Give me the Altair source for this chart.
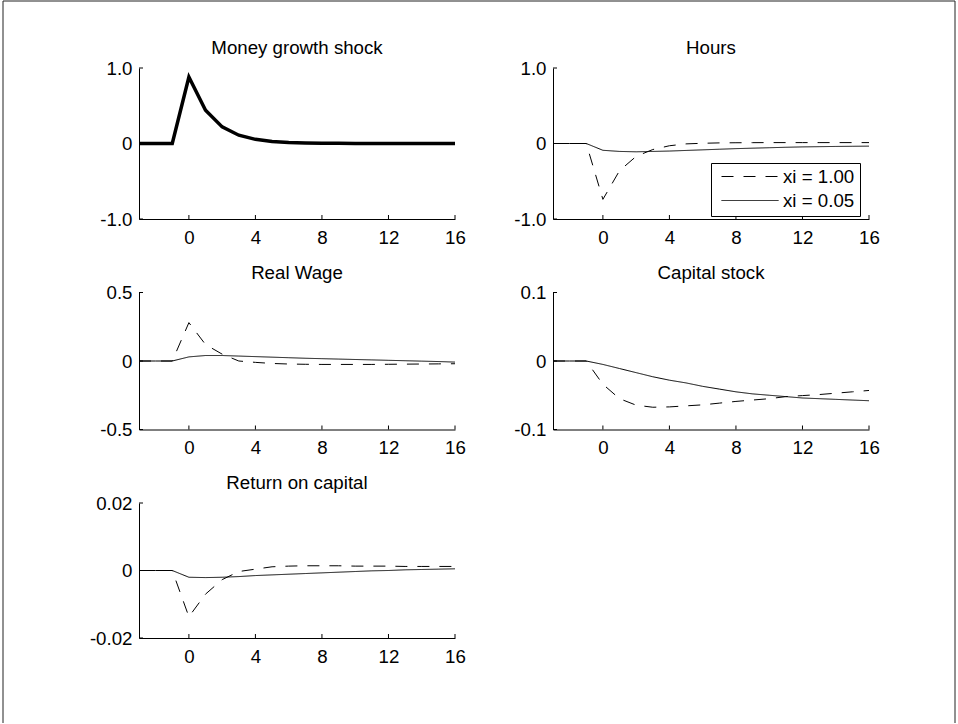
import altair as alt
import pandas as pd

FONT = "Liberation Sans"
FS = 18.7

# ---------------- data ----------------
steps = list(range(-3, 17))
series_names = ["xi = 1.00", "xi = 0.05"]
x_ticks = [0, 4, 8, 12, 16]
x_domain = [-3, 16]

money_shock = [0, 0, 0, 0.88, 0.44, 0.22, 0.11, 0.055, 0.028, 0.014, 0.007, 0.0035,
               0.002, 0.001, 0, 0, 0, 0, 0, 0]

hours_xi100 = [0, 0, 0, -0.74, -0.36, -0.17, -0.08, -0.03, -0.005, 0.003, 0.008, 0.01,
               0.011, 0.012, 0.012, 0.012, 0.012, 0.012, 0.012, 0.012]
hours_xi005 = [0, 0, 0, -0.09, -0.105, -0.11, -0.105, -0.1, -0.092, -0.084, -0.076,
               -0.068, -0.062, -0.056, -0.05, -0.045, -0.042, -0.039, -0.037, -0.035]

wage_xi100 = [0, 0, 0, 0.28, 0.12, 0.05, 0.0, -0.01, -0.018, -0.022, -0.024, -0.025,
              -0.025, -0.025, -0.025, -0.024, -0.023, -0.022, -0.021, -0.02]
wage_xi005 = [0, 0, 0, 0.03, 0.04, 0.04, 0.036, 0.032, 0.028, 0.024, 0.02, 0.017,
              0.014, 0.011, 0.008, 0.005, 0.002, -0.001, -0.004, -0.008]

capital_xi100 = [0, 0, 0, -0.034, -0.055, -0.0645, -0.0675, -0.067, -0.0655, -0.064,
                 -0.0615, -0.059, -0.057, -0.055, -0.052, -0.0505, -0.049, -0.047,
                 -0.045, -0.043]
capital_xi005 = [0, 0, 0, -0.005, -0.011, -0.017, -0.023, -0.028, -0.032, -0.037,
                 -0.041, -0.045, -0.048, -0.05, -0.052, -0.054, -0.055, -0.056,
                 -0.057, -0.058]

return_xi100 = [0, 0, 0, -0.0137, -0.007, -0.0027, -0.0003, 0.0004, 0.0011, 0.0013,
                0.0014, 0.0014, 0.0014, 0.0013, 0.0013, 0.0013, 0.0012, 0.0012,
                0.0012, 0.0012]
return_xi005 = [0, 0, 0, -0.002, -0.0021, -0.002, -0.0018, -0.0015, -0.0013, -0.0011,
                -0.0009, -0.0007, -0.0005, -0.0003, -0.0001, 0, 0.0002, 0.0003,
                0.0004, 0.0005]

W = 316
H1, H2, H3 = 151, 137, 135


def long_df(a, b):
    n = len(steps)
    return pd.DataFrame({
        "step": steps * 2,
        "value": a + b,
        "series": [series_names[0]] * n + [series_names[1]] * n,
    })


one_row = pd.DataFrame({"k": [0]})


def panel(title, df, ydom, yticks, fmt, h, legend=None, thick=False):
    xenc = alt.X("step:Q",
                 scale=alt.Scale(domain=x_domain, nice=False, zero=False),
                 axis=alt.Axis(values=x_ticks, title=None, ticks=False, grid=False,
                               labelFlush=False, labelOverlap=False, labelPadding=9))
    label_expr = (f"datum.value == 0 ? '0' : (datum.value < 0 ? '-' + "
                  f"format(-datum.value, '{fmt}') : format(datum.value, '{fmt}'))")
    yenc = alt.Y("value:Q",
                 scale=alt.Scale(domain=ydom, nice=False, zero=False),
                 axis=alt.Axis(values=yticks, title=None, ticks=False, grid=False,
                               labelFlush=False, labelOverlap=False, labelPadding=7,
                               labelExpr=label_expr))
    if thick:
        lines = alt.Chart(df).mark_line(color="black", strokeWidth=3.5).encode(x=xenc, y=yenc)
    else:
        lines = alt.Chart(df).mark_line(color="black", strokeWidth=1).encode(
            x=xenc, y=yenc,
            strokeDash=alt.StrokeDash(
                "series:N",
                scale=alt.Scale(domain=series_names, range=[[12, 10], [1, 0]]),
                legend=legend,
            ),
        )
    xt = alt.Chart(pd.DataFrame({"tick": x_ticks})).mark_rule(color="black", strokeWidth=1).encode(
        x=alt.X("tick:Q", title=None), y=alt.value(h - 4), y2=alt.value(h))
    yt = alt.Chart(pd.DataFrame({"tick": yticks})).mark_rule(color="black", strokeWidth=1).encode(
        y=alt.Y("tick:Q", title=None), x=alt.value(0), x2=alt.value(4))
    return alt.layer(lines, xt, yt).properties(width=W, height=h, title=title)


# figure frame (decoration), drawn from the empty bottom-right cell (origin 553, 503)
frame_origin = alt.Chart(one_row).mark_rule(strokeOpacity=0, strokeWidth=1).encode(
    x=alt.value(-553), x2=alt.value(-530), y=alt.value(-503))
frame_left = alt.Chart(one_row).mark_rule(color="#222", strokeWidth=1).encode(
    x=alt.value(-550), y=alt.value(-502), y2=alt.value(220))
frame_top = alt.Chart(one_row).mark_rule(color="#222", strokeWidth=1).encode(
    x=alt.value(-550), x2=alt.value(402), y=alt.value(-502))
frame_right = alt.Chart(one_row).mark_rule(color="#222", strokeWidth=1).encode(
    x=alt.value(402), y=alt.value(-502), y2=alt.value(220))
frame_cell = alt.layer(frame_origin, frame_left, frame_top, frame_right).properties(
    width=W, height=H3)

money_df = pd.DataFrame({"step": steps, "value": money_shock})

hours_legend = alt.Legend(
    orient="none", legendX=158, legendY=95, title=None,
    strokeColor="black", fillColor="white", padding=5, cornerRadius=0,
    symbolType="stroke", symbolSize=3249, symbolStrokeWidth=1, symbolOffset=5,
    symbolStrokeColor="black", labelFont=FONT, labelFontSize=FS,
    labelColor="black", labelOffset=4, rowPadding=4, clipHeight=17,
)

p1 = panel("Money growth shock", money_df, [-1, 1], [-1, 0, 1], ".1f", H1, thick=True)
p2 = panel("Hours", long_df(hours_xi100, hours_xi005), [-1, 1], [-1, 0, 1], ".1f", H1,
           legend=hours_legend)
p3 = panel("Real Wage", long_df(wage_xi100, wage_xi005), [-0.5, 0.5], [-0.5, 0, 0.5], ".1f", H2)
p4 = panel("Capital stock", long_df(capital_xi100, capital_xi005), [-0.1, 0.1], [-0.1, 0, 0.1], ".1f", H2)
p5 = panel("Return on capital", long_df(return_xi100, return_xi005), [-0.02, 0.02],
           [-0.02, 0, 0.02], ".2f", H3)

chart = alt.concat(
    p1, p2, p3, p4, p5, frame_cell, columns=2,
    spacing={"row": 73.5, "column": 98}, bounds="flush",
).resolve_scale(strokeDash="independent").resolve_legend(
    strokeDash="independent").properties(padding=0)

chart = chart.configure_view(strokeWidth=0).configure_axis(
    labelFont=FONT, labelFontSize=FS, labelColor="black",
    domainColor="black", domainWidth=1,
).configure_title(
    font=FONT, fontSize=FS, fontWeight="normal", color="black",
    anchor="middle", offset=1, frame="group",
)

chart.save("out.html", embed_options={"renderer": "svg", "actions": False})
